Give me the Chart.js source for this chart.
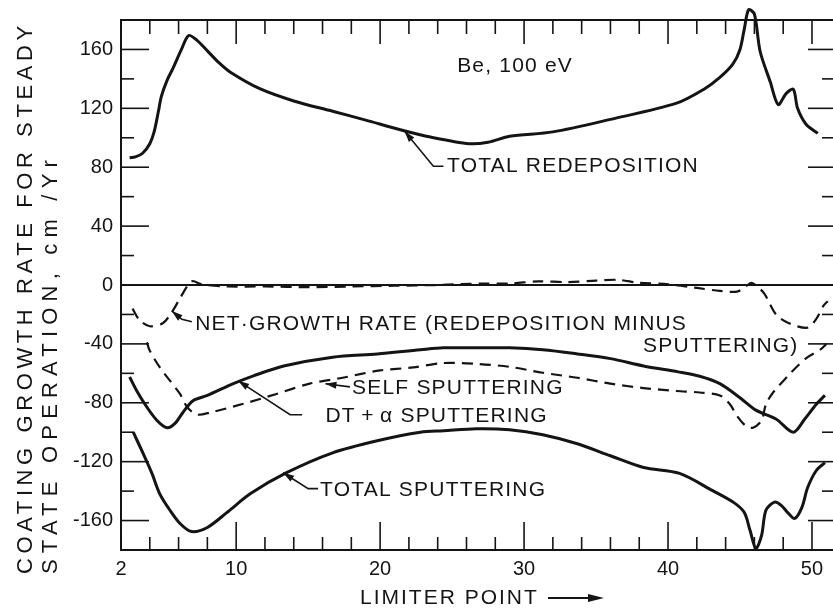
<!DOCTYPE html>
<html><head><meta charset="utf-8">
<script src="https://cdn.jsdelivr.net/npm/chart.js@4/dist/chart.umd.min.js"></script>
<style>html,body{margin:0;padding:0;background:#fff;overflow:hidden}#wrap{width:833px;height:610px}</style>
</head><body><div id="wrap"><canvas id="c" width="833" height="610"></canvas></div>
<script>
// ---- data ----
const xTickLabels = [2, 10, 20, 30, 40, 50];
const yTickLabels = [-160, -120, -80, -40, 0, 40, 80, 120, 160];

const redepX = [2.6, 3.0, 3.5, 4.0, 4.3, 4.6, 4.8, 5.2, 5.6, 6.2, 6.7, 7.3, 8.0, 8.8, 9.6, 11.6, 14.0, 16.7, 19.0, 21.4, 23.5, 26.2, 27.5, 29.0, 32.0, 36.0, 40.6, 42.5, 43.6, 44.5, 45.0, 45.3, 45.6, 46.0, 46.4, 47.1, 47.65, 48.2, 48.7, 49.0, 49.6, 50.4];
const redepY = [86.5, 87, 89.5, 96, 104, 118, 128, 139, 147, 160, 169.5, 166, 159, 151, 144.5, 133.5, 125, 118, 112, 105.5, 100.5, 96, 97, 101, 104, 112.5, 123.5, 133, 141, 150, 160, 174, 187, 184, 158.6, 138, 122.5, 130, 133, 120, 109, 103];

const netX = [2.8, 3.3, 4.0, 4.9, 5.5, 6.1, 6.7, 7.0, 7.6, 9.4, 12, 15, 18, 21, 24, 27, 29, 31, 33, 35, 36.5, 38, 40, 42, 43.6, 44.8, 45.4, 45.8, 46.2, 46.7, 47.5, 48.4, 49.7, 50.3, 50.8, 51.1];
const netY = [-16, -24, -28, -26, -19, -9, 0.7, 2.7, 0.5, -1, -1, -1.5, -1, -0.5, 0, 1, 1, 2.5, 2, 3, 3.5, 1.5, 0.5, -2, -4, -4.5, -1, 1.5, -1, -6, -20, -26, -29, -23, -14, -11];

const selfX = [3.8, 4.0, 4.7, 5.4, 6.1, 6.6, 7.3, 8.2, 10.5, 12.8, 15.1, 17.4, 20, 22.3, 24.4, 26.7, 29, 31.3, 33.7, 36, 38.3, 40.6, 42.2, 43.6, 44.3, 44.8, 45.4, 45.9, 46.5, 46.8, 47.3, 48.3, 49.0, 49.7, 50.6, 51.0];
const selfY = [-39, -44.7, -56, -65, -74, -83, -88, -86.6, -80.7, -74, -67, -63, -58, -56, -53, -53.6, -55.6, -59.6, -63, -67, -70, -72, -73, -75, -81, -89, -95.6, -97, -92, -81, -73, -62, -55, -49, -43.7, -40];

const dtX = [2.6, 3.1, 3.8, 4.5, 5.2, 5.75, 6.3, 7.0, 8.0, 9.8, 11.2, 13.3, 16.7, 19.8, 22.8, 24.4, 26.7, 29, 31.3, 33.7, 36, 38.3, 40.7, 42.2, 43.6, 45.0, 46.1, 47.5, 48.7, 49.5, 50.3, 50.9];
const dtY = [-62.5, -72, -83, -92, -97, -94, -86.6, -78.6, -75, -67, -61.7, -55, -49, -46.8, -44, -42.7, -42.7, -42.7, -44, -46.8, -50, -55, -59, -62, -67, -76.6, -85, -91, -100, -91, -81, -75];

const totX = [2.85, 3.55, 4.15, 4.7, 5.4, 6.1, 6.9, 8.0, 9.35, 11.0, 13.5, 16.7, 19.8, 22.8, 24.4, 26.7, 29, 31.3, 33.7, 36, 38.3, 40.8, 43.1, 44.6, 45.3, 45.7, 46.1, 46.5, 46.8, 47.4, 47.9, 48.35, 48.8, 49.3, 49.7, 50.3, 50.9];
const totY = [-100, -114.7, -128, -142, -153, -162, -167.5, -164.7, -154.6, -141.7, -127.5, -114, -105.8, -100, -99, -97.6, -98.3, -101.7, -107.8, -116, -124, -128, -139.7, -148, -154.6, -166.8, -179, -170, -153, -147.5, -150, -155, -158.6, -151, -137.6, -126, -120.7];

// annotation labels (text anchored in data units; leader ends at arrow tip)
const labelTexts = ['Be, 100 eV', 'TOTAL REDEPOSITION', 'NET\u00B7GROWTH RATE (REDEPOSITION MINUS', 'SPUTTERING)', 'SELF SPUTTERING', 'DT\u2009+\u2009\u03B1 SPUTTERING', 'TOTAL SPUTTERING'];
const labelX = [25.35, 24.65, 7.15, 38.26, 18.05, 16.2, 15.83];
const labelY = [148.5, 80.7, -26.4, -41.4, -69.8, -88.8, -139.7];
const leaders = [
  null,
  [[24.4, 80.7], [23.7, 80.7], [21.7, 104.4]],
  [[6.92, -24.9], [6.23, -23.3], [5.53, -17.6]],
  null,
  [[17.9, -69.2], [16.2, -67.1]],
  [[14.58, -88.1], [13.75, -88.1], [10.14, -65.1]],
  [[15.69, -138.3], [15.0, -138.3], [13.26, -127.5]]
];

// ---- chart ----
const INK = '#141414';
const FONT = '"Liberation Sans", Arial, sans-serif';
const pts = (xs, ys) => xs.map((v, i) => ({x: v, y: ys[i]}));

function line(ctx, x1, y1, x2, y2) { ctx.beginPath(); ctx.moveTo(x1, y1); ctx.lineTo(x2, y2); ctx.stroke(); }
function arrowHead(ctx, fx, fy, tx, ty, len, hw) {
  const ang = Math.atan2(ty - fy, tx - fx);
  ctx.save(); ctx.translate(tx, ty); ctx.rotate(ang);
  ctx.beginPath(); ctx.moveTo(0, 0); ctx.lineTo(-len, -hw); ctx.lineTo(-len, hw); ctx.closePath(); ctx.fill();
  ctx.restore();
}

const decor = {
  id: 'decor',
  afterDraw(chart) {
    const {ctx, chartArea: a, scales: {x, y}} = chart;
    ctx.save();
    ctx.strokeStyle = INK; ctx.fillStyle = INK;
    ctx.lineWidth = 2;
    line(ctx, a.left, a.top, a.right, a.top);
    ctx.lineWidth = 1.6;
    for (let v = 2; v <= 50; v += 2) {
      const major = v % 10 === 0;
      const px = x.getPixelForValue(v);
      line(ctx, px, a.bottom, px, a.bottom - (major ? 28 : 13));
      line(ctx, px, a.top, px, a.top + (major ? 24 : 14));
    }
    for (let v = -160; v <= 160; v += 20) {
      if (v === 0) continue;
      const major = v % 40 === 0;
      const py = y.getPixelForValue(v);
      line(ctx, a.left, py, a.left + (major ? 28 : 13), py);
      line(ctx, a.right, py, a.right - (major ? 25 : 11), py);
    }
    ctx.font = '21px ' + FONT;
    ctx.letterSpacing = '1.2px';
    ctx.textBaseline = 'middle'; ctx.textAlign = 'left';
    labelTexts.forEach((t, i) => {
      ctx.fillText(t, x.getPixelForValue(labelX[i]), y.getPixelForValue(labelY[i]));
      const L = leaders[i];
      if (!L) return;
      ctx.lineWidth = 1.6;
      ctx.beginPath();
      L.forEach((p, j) => {
        const px = x.getPixelForValue(p[0]), py = y.getPixelForValue(p[1]);
        j ? ctx.lineTo(px, py) : ctx.moveTo(px, py);
      });
      ctx.stroke();
      const p1 = L[L.length - 2], p2 = L[L.length - 1];
      arrowHead(ctx, x.getPixelForValue(p1[0]), y.getPixelForValue(p1[1]), x.getPixelForValue(p2[0]), y.getPixelForValue(p2[1]), 11, 3.5);
    });
    ctx.font = '22px ' + FONT;
    ctx.letterSpacing = '4.6px';
    ctx.save(); ctx.translate(26, 574); ctx.rotate(-Math.PI / 2);
    ctx.fillText('COATING GROWTH RATE FOR STEADY', 0, 0);
    ctx.restore();
    ctx.letterSpacing = '6.2px';
    ctx.save(); ctx.translate(51, 574); ctx.rotate(-Math.PI / 2);
    ctx.fillText('STATE OPERATION, cm /Yr', 0, 0);
    ctx.restore();
    ctx.font = '21px ' + FONT;
    ctx.letterSpacing = '2px';
    ctx.fillText('LIMITER POINT', 360, 598);
    ctx.lineWidth = 2;
    line(ctx, 548, 598, 592, 598);
    arrowHead(ctx, 548, 598, 604, 598, 16, 4);
    ctx.restore();
  }
};

const solid = (data) => ({data, borderColor: INK, borderWidth: 3, pointRadius: 0, tension: 0.3, fill: false, clip: false});
const dashed = (data) => ({data, borderColor: INK, borderWidth: 2.2, borderDash: [11, 7], pointRadius: 0, tension: 0.3, fill: false, clip: false});

new Chart(document.getElementById('c'), {
  type: 'line',
  data: {
    datasets: [
      Object.assign(solid(pts(redepX, redepY)), {label: 'Total redeposition'}),
      Object.assign(dashed(pts(netX, netY)), {label: 'Net growth rate'}),
      Object.assign(dashed(pts(selfX, selfY)), {label: 'Self sputtering'}),
      Object.assign(solid(pts(dtX, dtY)), {label: 'DT+\u03B1 sputtering'}),
      Object.assign(solid(pts(totX, totY)), {label: 'Total sputtering'})
    ]
  },
  options: {
    responsive: false,
    animation: false,
    events: [],
    layout: {padding: {top: 19, left: 0, right: 0, bottom: 0}},
    plugins: {legend: {display: false}, tooltip: {enabled: false}},
    scales: {
      x: {
        type: 'linear', min: 2, max: 51.46,
        afterBuildTicks: s => { s.ticks = xTickLabels.map(v => ({value: v})); },
        afterFit: s => { s.height = 60; },
        grid: {display: false, drawTicks: false},
        border: {display: true, color: INK, width: 2},
        ticks: {color: INK, font: {family: FONT, size: 20}, padding: 7, maxRotation: 0, autoSkip: false}
      },
      y: {
        type: 'linear', min: -180, max: 180,
        afterBuildTicks: s => { s.ticks = yTickLabels.map(v => ({value: v})); },
        afterFit: s => { s.width = 121; },
        grid: {drawTicks: false, color: c => (c.tick && c.tick.value === 0) ? INK : 'rgba(0,0,0,0)', lineWidth: 2},
        border: {display: true, color: INK, width: 2},
        ticks: {color: INK, font: {family: FONT, size: 20}, padding: 8, autoSkip: false}
      }
    }
  },
  plugins: [decor]
});
</script>
</body></html>
